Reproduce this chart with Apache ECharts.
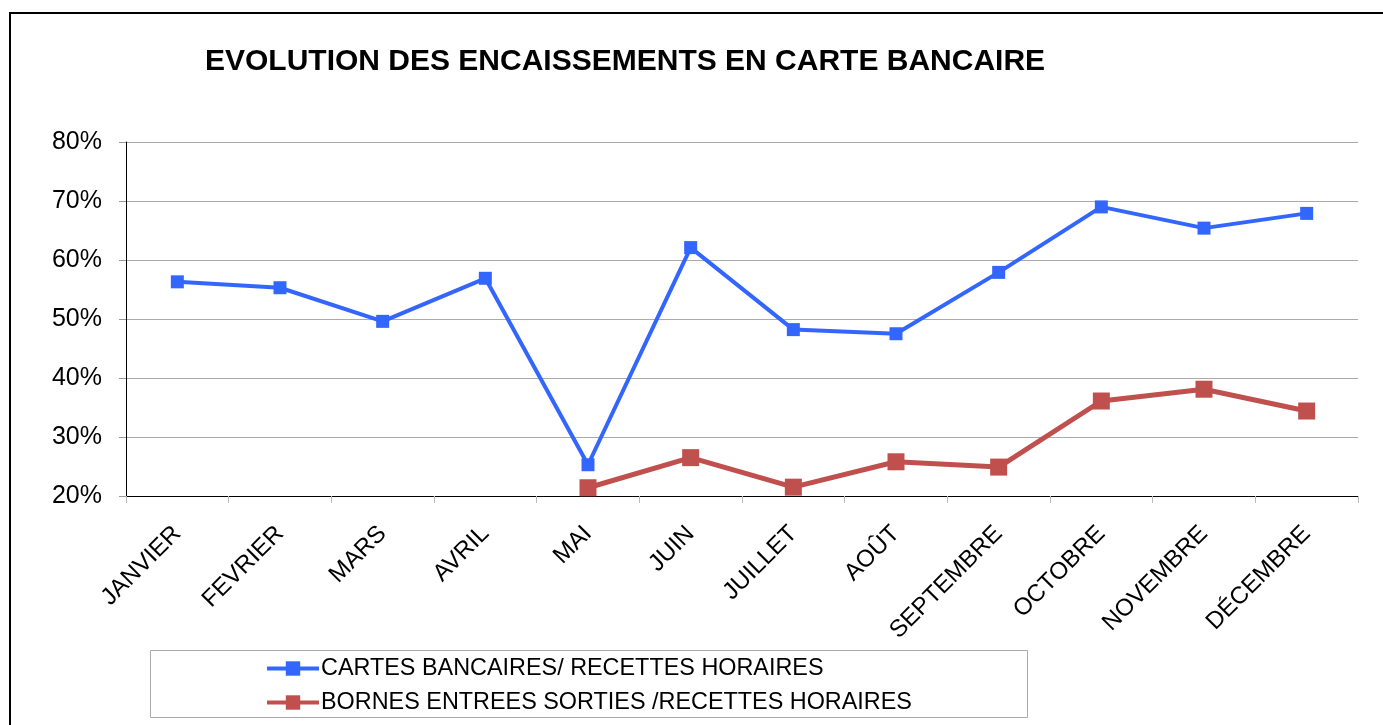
<!DOCTYPE html>
<html>
<head>
<meta charset="utf-8">
<script src="https://cdn.jsdelivr.net/npm/echarts@6/dist/echarts.min.js"></script>
<style>
  html, body { margin: 0; padding: 0; background: #fff; }
  #chart { width: 1383px; height: 725px; }
</style>
</head>
<body>
<div id="chart"></div>
<script>
// données
const mois = ['JANVIER', 'FEVRIER', 'MARS', 'AVRIL', 'MAI', 'JUIN', 'JUILLET', 'AOÛT', 'SEPTEMBRE', 'OCTOBRE', 'NOVEMBRE', 'DÉCEMBRE']
const cartesBancaires = [56.3, 55.3, 49.6, 56.9, 25.3, 62.1, 48.2, 47.5, 57.9, 69.0, 65.4, 67.9]
const bornes = [null, null, null, null, 21.4, 26.5, 21.5, 25.8, 24.9, 36.1, 38.1, 34.4]

const font = 'Liberation Sans, Arial, sans-serif'
const chart = echarts.init(document.getElementById('chart'))

const option = {
  animation: false,
  backgroundColor: '#fff',
  title: {
    text: 'EVOLUTION DES ENCAISSEMENTS EN CARTE BANCAIRE',
    left: 200,
    top: 42,
    textStyle: { fontFamily: font, fontSize: 30, fontWeight: 'bold', color: '#000' },
  },
  graphic: [
    {
      // cadre extérieur
      type: 'rect',
      shape: { x: 10, y: 13, width: 1390, height: 730 },
      style: { fill: 'none', stroke: '#000', lineWidth: 2 },
      z: 0,
    },
    {
      // boîte de la légende
      type: 'rect',
      shape: { x: 150.5, y: 650.5, width: 877, height: 67 },
      style: { fill: 'none', stroke: '#aaa', lineWidth: 1 },
      z: 0,
    },
  ],
  legend: {
    orient: 'vertical',
    left: 260,
    top: 652,
    itemWidth: 52,
    itemHeight: 18,
    itemGap: 11,
    lineStyle: { width: 4 },
    textStyle: { fontFamily: font, fontSize: 23.4, color: '#000', padding: [0, 0, 0, -3] },
    data: ['CARTES BANCAIRES/ RECETTES HORAIRES', 'BORNES ENTREES SORTIES /RECETTES HORAIRES'],
  },
  grid: { left: 126, right: 25, top: 142, bottom: 229 },
  xAxis: {
    type: 'category',
    data: mois,
    boundaryGap: true,
    axisLine: { lineStyle: { color: '#000', width: 1 } },
    axisTick: { show: true, length: 7, lineStyle: { color: '#bbb' } },
    axisLabel: { rotate: 45, fontFamily: font, fontSize: 24, color: '#000', margin: 34 },
  },
  yAxis: {
    type: 'value',
    min: 20,
    max: 80,
    interval: 10,
    axisLine: { show: true, lineStyle: { color: '#000', width: 1 } },
    axisTick: { show: true, length: 7, lineStyle: { color: '#999' } },
    axisLabel: { formatter: '{value}%', fontFamily: font, fontSize: 25, color: '#000', margin: 24 },
    splitLine: { lineStyle: { color: '#aaa', width: 1 } },
  },
  series: [
    {
      name: 'CARTES BANCAIRES/ RECETTES HORAIRES',
      type: 'line',
      data: cartesBancaires,
      color: '#3366FF',
      lineStyle: { width: 4 },
      symbol: 'rect',
      symbolSize: 13,
      z: 3,
    },
    {
      name: 'BORNES ENTREES SORTIES /RECETTES HORAIRES',
      type: 'line',
      data: bornes,
      color: '#C0504D',
      lineStyle: { width: 5 },
      symbol: 'rect',
      symbolSize: 17,
      z: 2,
    },
  ],
}

chart.setOption(option, true)
</script>
</body>
</html>
